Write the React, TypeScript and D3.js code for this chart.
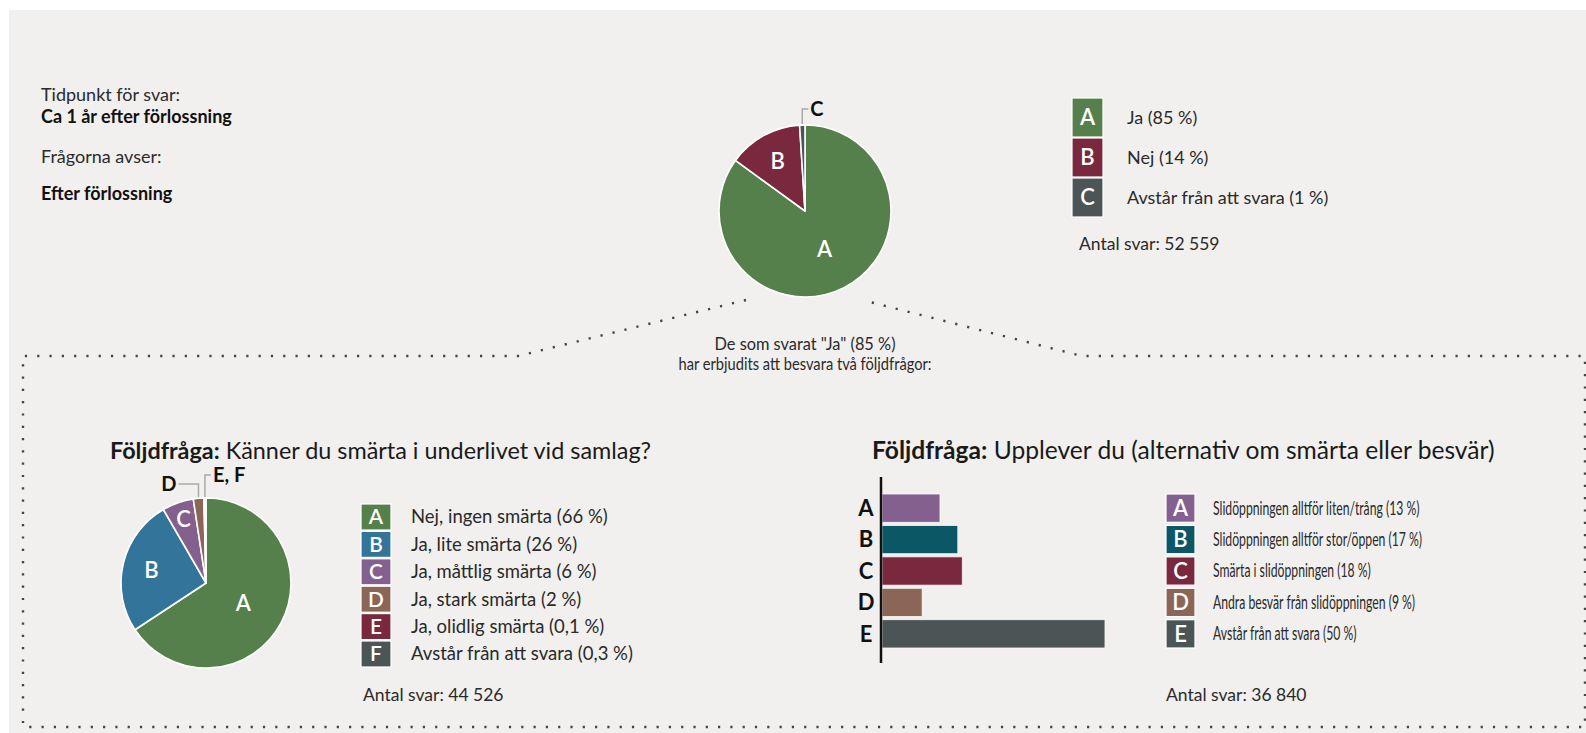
import React, { useEffect, useRef } from 'react';
import * as d3 from 'd3';

// Huvudfråga
const topKeys = ['A', 'B', 'C'];
const topLabels = ['Ja (85 %)', 'Nej (14 %)', 'Avstår från att svara (1 %)'];
const topValues = [85, 14, 1];
const topColors = ['#56804b', '#7a283d', '#4b5556'];
const topCount = 'Antal svar: 52 559';

// Följdfråga 1
const painKeys = ['A', 'B', 'C', 'D', 'E', 'F'];
const painLabels = [
  'Nej, ingen smärta (66 %)',
  'Ja, lite smärta (26 %)',
  'Ja, måttlig smärta (6 %)',
  'Ja, stark smärta (2 %)',
  'Ja, olidlig smärta (0,1 %)',
  'Avstår från att svara (0,3 %)',
];
const painValues = [66, 26, 6, 2, 0.1, 0.3];
const painColors = ['#56804b', '#33759a', '#84608f', '#8b6555', '#7a283d', '#4b5556'];
const painCount = 'Antal svar: 44 526';

// Följdfråga 2
const issueKeys = ['A', 'B', 'C', 'D', 'E'];
const issueLabels = [
  'Slidöppningen alltför liten/trång (13 %)',
  'Slidöppningen alltför stor/öppen (17 %)',
  'Smärta i slidöppningen (18 %)',
  'Andra besvär från slidöppningen (9 %)',
  'Avstår från att svara (50 %)',
];
const issueValues = [13, 17, 18, 9, 50];
const issueColors = ['#84608f', '#0b5765', '#7a283d', '#8b6555', '#4b5556'];
const issueCount = 'Antal svar: 36 840';

const FONT = "Lato, 'Open Sans', sans-serif";

const App = () => {
  const ref = useRef<SVGSVGElement>(null);

  useEffect(() => {
    drawChart();
  }, []);

  const drawPie = (svg, cx, cy, r, keys, values, colors) => {
    const pie = d3.pie<number>().sort(null).value(d => d);
    const arcs = pie(values);
    const total = d3.sum(values);
    const arc = d3.arc<any>().innerRadius(0).outerRadius(r);
    const g = svg.append('g').attr('transform', `translate(${cx},${cy})`);

    g.selectAll('path')
      .data(arcs)
      .enter()
      .append('path')
      .attr('d', arc)
      .attr('fill', (d, i) => colors[i])
      .attr('stroke', '#fff')
      .attr('stroke-width', 1.6)
      .attr('stroke-linejoin', 'round');

    // labels inside the slices that are big enough
    g.selectAll('text')
      .data(arcs.filter(d => d.value / total > 0.04))
      .enter()
      .append('text')
      .attr('transform', d => {
        const share = d.value / total;
        const lr = share > 0.5 ? r * 0.5 : share > 0.1 ? r * 0.66 : r * 0.8;
        const c = d3.arc<any>().innerRadius(lr).outerRadius(lr).centroid(d);
        return `translate(${c})`;
      })
      .attr('text-anchor', 'middle')
      .attr('dy', '0.36em')
      .attr('fill', '#fff')
      .attr('font-size', 22)
      .attr('font-weight', 600)
      .text(d => keys[d.index]);

    return { g, arcs, r };
  };

  // leader line for thin slices: up from the rim, then sideways to the label
  const callout = (g, arcs, r, idx, label, dir, up) => {
    const a0 = arcs[idx[0]].startAngle;
    const a1 = arcs[idx[idx.length - 1]].endAngle;
    const mid = (a0 + a1) / 2;
    const x = Math.sin(mid) * (r + 1);
    const y = -Math.cos(mid) * (r + 1);
    const yTop = -r - up;
    const xEnd = x + dir * (dir > 0 ? 6 : 20);
    g.append('path')
      .attr('d', `M${x},${y}V${yTop}H${xEnd}`)
      .attr('fill', 'none')
      .attr('stroke', '#a9a9a9')
      .attr('stroke-width', 1.5);
    g.append('text')
      .attr('x', xEnd + dir * 2)
      .attr('y', yTop)
      .attr('dy', '0.36em')
      .attr('text-anchor', dir > 0 ? 'start' : 'end')
      .attr('font-size', 20)
      .attr('font-weight', 'bold')
      .attr('fill', '#111')
      .text(label);
  };

  const drawLegend = (svg, x, y0, step, w, h, keys, labels, colors, textX, fs, squeeze) => {
    const g = svg.append('g');
    keys.forEach((k, i) => {
      const y = y0 + i * step;
      g.append('rect')
        .attr('x', x)
        .attr('y', y)
        .attr('width', w)
        .attr('height', h)
        .attr('fill', colors[i])
        .attr('stroke', '#fff')
        .attr('stroke-width', 1.2);
      g.append('text')
        .attr('x', x + w / 2)
        .attr('y', y + h / 2)
        .attr('dy', '0.36em')
        .attr('text-anchor', 'middle')
        .attr('fill', '#fff')
        .attr('font-size', Math.min(22, h * 0.8))
        .attr('font-weight', 600)
        .text(k);
      g.append('text')
        .attr('transform', `translate(${textX},${y + h / 2}) scale(${squeeze},1)`)
        .attr('dy', '0.35em')
        .attr('fill', '#2a2a2a')
        .attr('font-size', fs)
        .text(labels[i]);
    });
  };

  const drawChart = () => {
    const svg = d3.select(ref.current);
    svg.selectAll('*').remove();
    svg.attr('font-family', FONT);

    // backgrounds
    svg.append('rect').attr('width', 1586).attr('height', 733).attr('fill', '#fff');
    svg.append('rect').attr('x', 9).attr('y', 10).attr('width', 1577).attr('height', 723).attr('fill', '#f1f0ee');

    // dotted frame for the follow-up questions
    svg.append('path')
      .attr('d', 'M746,300L518,356H23V727H1585V356H1082L862,300')
      .attr('fill', 'none')
      .attr('stroke', '#444')
      .attr('stroke-width', 2.4)
      .attr('stroke-dasharray', '2.2 10.1');

    // info text top left
    const info = [
      ['Tidpunkt för svar:', 'normal', 101],
      ['Ca 1 år efter förlossning', 'bold', 123],
      ['Frågorna avser:', 'normal', 163],
      ['Efter förlossning', 'bold', 200],
    ];
    info.forEach(([t, w, y]) => {
      svg.append('text')
        .attr('x', 41)
        .attr('y', y)
        .attr('font-size', 18)
        .attr('font-weight', w)
        .attr('fill', w === 'bold' ? '#111' : '#2a2a2a')
        .text(t);
    });

    // top pie
    const top = drawPie(svg, 805, 211, 86, topKeys, topValues, topColors);
    callout(top.g, top.arcs, top.r, [2], 'C', 1, 16);
    drawLegend(svg, 1072, 98, 40, 31, 39, topKeys, topLabels, topColors, 1127, 18, 1);
    svg.append('text').attr('x', 1079).attr('y', 250).attr('font-size', 17.5).attr('fill', '#2a2a2a').text(topCount);

    // bridge text
    const bridge = [
      ['De som svarat "Ja" (85 %)', 181],
      ['har erbjudits att besvara två följdfrågor:', 253],
    ];
    bridge.forEach(([t, len], i) => {
      svg.append('text')
        .attr('x', 805)
        .attr('y', 350 + i * 20)
        .attr('text-anchor', 'middle')
        .attr('font-size', 16.5)
        .attr('textLength', len)
        .attr('lengthAdjust', 'spacingAndGlyphs')
        .attr('fill', '#2a2a2a')
        .text(t);
    });

    // titles
    const title = (x, rest, fs) => {
      const t = svg.append('text').attr('x', x).attr('y', 459).attr('font-size', fs).attr('fill', '#1a1a1a');
      t.append('tspan').attr('font-weight', 'bold').text('Följdfråga:');
      t.append('tspan').text(' ' + rest);
    };
    title(110, 'Känner du smärta i underlivet vid samlag?', 23.4);
    title(872, 'Upplever du (alternativ om smärta eller besvär)', 24.6);

    // left pie
    const pain = drawPie(svg, 206, 583, 85, painKeys, painValues, painColors);
    callout(pain.g, pain.arcs, pain.r, [3], 'D', -1, 14);
    callout(pain.g, pain.arcs, pain.r, [4, 5], 'E, F', 1, 23);
    drawLegend(svg, 361, 504, 27.4, 30, 26, painKeys, painLabels, painColors, 411, 18.5, 1);
    svg.append('text').attr('x', 363).attr('y', 701).attr('font-size', 17.5).attr('fill', '#2a2a2a').text(painCount);

    // bar chart
    const x = d3.scaleLinear().domain([0, 50]).range([882, 1105]);
    const y = d3.scaleBand().domain(issueKeys).range([494, 648]).paddingInner(0.1);
    const bars = svg.append('g');
    bars.selectAll('rect')
      .data(issueValues)
      .enter()
      .append('rect')
      .attr('x', x(0))
      .attr('y', (d, i) => y(issueKeys[i]))
      .attr('width', d => x(d) - x(0))
      .attr('height', y.bandwidth())
      .attr('fill', (d, i) => issueColors[i])
      .attr('stroke', '#fafafa')
      .attr('stroke-width', 0.8);
    bars.selectAll('text')
      .data(issueKeys)
      .enter()
      .append('text')
      .attr('x', 866)
      .attr('y', d => y(d) + y.bandwidth() / 2)
      .attr('dy', '0.36em')
      .attr('text-anchor', 'middle')
      .attr('font-size', 22)
      .attr('font-weight', 'bold')
      .attr('fill', '#111')
      .text(d => d);
    bars.append('line')
      .attr('x1', 881)
      .attr('x2', 881)
      .attr('y1', 477)
      .attr('y2', 663)
      .attr('stroke', '#111')
      .attr('stroke-width', 2.5);

    drawLegend(svg, 1166, y(issueKeys[0]), y.step(), 29, y.bandwidth(), issueKeys, issueLabels, issueColors, 1213, 18.5, 0.66);
    svg.append('text').attr('x', 1166).attr('y', 701).attr('font-size', 17.5).attr('fill', '#2a2a2a').text(issueCount);
  };

  return (
    <svg
      ref={ref}
      width={1586}
      height={733}
      style={{ position: 'absolute', left: 0, top: 0, display: 'block' }}
    />
  );
};

export default App;
